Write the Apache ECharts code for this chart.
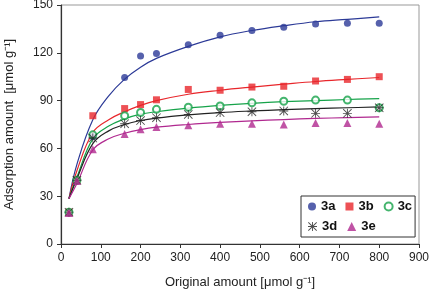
<!DOCTYPE html>
<html>
<head>
<meta charset="utf-8">
<script src="https://cdn.jsdelivr.net/npm/echarts@6/dist/echarts.min.js"></script>
<style>
  html, body { margin: 0; padding: 0; background: #fff; }
  #chart { width: 430px; height: 291px; }
</style>
</head>
<body>
<div id="chart"></div>
<script>
// measured points (x = original amount, y = adsorption amount)
const xPoints = [20, 40, 80, 160, 200, 240, 320, 400, 480, 560, 640, 720, 800];
const a3 = [20, 40, 67.5, 104.5, 118, 119.5, 125, 131, 134, 136, 138, 138.5, 138.5];
const b3 = [20, 40, 80.5, 85, 87.5, 90.5, 97, 96.5, 98.5, 99, 102.3, 103.3, 105];
const c3 = [20, 40, 68.5, 80.5, 82.5, 84.5, 85.8, 86.6, 88.6, 89.6, 90.3, 90.3, 85.5];
const d3 = [20, 40, 66.5, 75.5, 77.5, 79.3, 81.3, 82.5, 83, 83.5, 82, 82, 85.5];
const e3 = [19.5, 39.5, 59.5, 69, 72, 73.5, 74.5, 75.5, 75.5, 75, 76, 76, 75.5];

// fitted curves
const xFit = [20, 40, 80, 120, 160, 200, 240, 320, 400, 480, 560, 640, 720, 800];
const a3Fit = [28.5, 50, 78, 93, 103.5, 111, 116.5, 124, 130, 134, 137, 139.5, 141, 142.5];
const b3Fit = [28.5, 46, 70, 78, 83, 87, 90, 94, 96.5, 98.5, 100.3, 102, 103.3, 104.5];
const c3Fit = [28.5, 42, 66, 74, 78.5, 81.5, 83, 85.3, 87, 88.3, 89.3, 90, 90.7, 91.3];
const d3Fit = [28.5, 41, 63, 71, 75, 77.5, 79, 81, 82.5, 83.5, 84.3, 85, 85.5, 86];
const e3Fit = [28.5, 38, 59, 66, 69.5, 71.8, 73.3, 75, 76.3, 77.3, 78.1, 78.8, 79.3, 79.8];

const xTicks = [0, 100, 200, 300, 400, 500, 600, 700, 800, 900];
const yTicks = [0, 30, 60, 90, 120, 150];

const names = ["3a", "3b", "3c", "3d", "3e"];
const colors = ["#2c3a97", "#e8262b", "#16a34a", "#222222", "#b0288f"];

const star = "path://M0,45L100,45L100,55L0,55Z M45,0L55,0L55,100L45,100Z M7,0L100,93L93,100L0,7Z M93,0L100,7L7,100L0,93Z";
const symbols = ["circle", "rect", "emptyCircle", star, "triangle"];
const sizes = [7, 7, 7, 9, 8];

const pointSets = [a3, b3, c3, d3, e3];
const fitSets = [a3Fit, b3Fit, c3Fit, d3Fit, e3Fit];

function pairs(xs, ys) {
  return xs.map((x, i) => [x, ys[i]]);
}

const series = [];
fitSets.forEach((ys, i) => {
  series.push({
    name: names[i] + " fit",
    type: "line",
    smooth: 0.4,
    showSymbol: false,
    silent: true,
    data: pairs(xFit, ys),
    lineStyle: { color: colors[i], width: 1.2 },
    z: 2,
  });
});
pointSets.forEach((ys, i) => {
  series.push({
    name: names[i],
    type: "scatter",
    symbol: symbols[i],
    symbolSize: sizes[i],
    data: pairs(xPoints, ys),
    itemStyle: i === 2
      ? { color: colors[i], borderColor: colors[i], borderWidth: 1 }
      : { color: colors[i] },
    z: 3,
  });
});

const legendText = {
  fontFamily: "Liberation Sans, Arial, sans-serif",
  fontSize: 13,
  fontWeight: "bold",
  color: "#111",
};

const chart = echarts.init(document.getElementById("chart"), null, { renderer: "canvas" });
chart.setOption({
  animation: false,
  textStyle: { fontFamily: "Liberation Sans, Arial, sans-serif" },
  grid: {
    left: 61,
    right: 11,
    top: 5,
    bottom: 47,
    containLabel: false,
    outerBoundsMode: "none",
    show: true,
    borderColor: "#999",
    borderWidth: 1,
  },
  legend: [
    {
      data: names.slice(0, 3),
      left: 301,
      top: 196,
      orient: "horizontal",
      itemWidth: 8,
      itemHeight: 8,
      itemGap: 10,
      padding: [4, 3, 24, 7],
      borderColor: "#333",
      borderWidth: 1,
      textStyle: legendText,
      selectedMode: false,
    },
    {
      data: names.slice(3),
      left: 301,
      top: 216,
      orient: "horizontal",
      itemWidth: 9,
      itemHeight: 9,
      itemGap: 10,
      padding: [4, 3, 4, 7],
      textStyle: legendText,
      selectedMode: false,
    },
  ],
  xAxis: {
    type: "value",
    min: xTicks[0],
    max: xTicks[xTicks.length - 1],
    interval: 100,
    name: "Original amount [μmol g⁻¹]",
    nameLocation: "middle",
    nameGap: 32,
    nameTextStyle: { fontSize: 13, color: "#222" },
    axisLine: { lineStyle: { color: "#333", width: 1.2 } },
    axisTick: { inside: false, length: 4, lineStyle: { color: "#333" } },
    axisLabel: { fontSize: 12, color: "#222", margin: 8 },
    splitLine: { show: false },
  },
  yAxis: {
    type: "value",
    min: yTicks[0],
    max: yTicks[yTicks.length - 1],
    interval: 30,
    name: "Adsorption amount  [μmol g⁻¹]",
    nameLocation: "middle",
    nameGap: 45,
    nameTextStyle: { fontSize: 13, color: "#222" },
    axisLine: { show: true, lineStyle: { color: "#333", width: 1.2 } },
    axisTick: { show: true, inside: false, length: 4, lineStyle: { color: "#333" } },
    axisLabel: { fontSize: 12, color: "#222", margin: 8 },
    splitLine: { show: false },
  },
  series: series,
});
</script>
</body>
</html>
